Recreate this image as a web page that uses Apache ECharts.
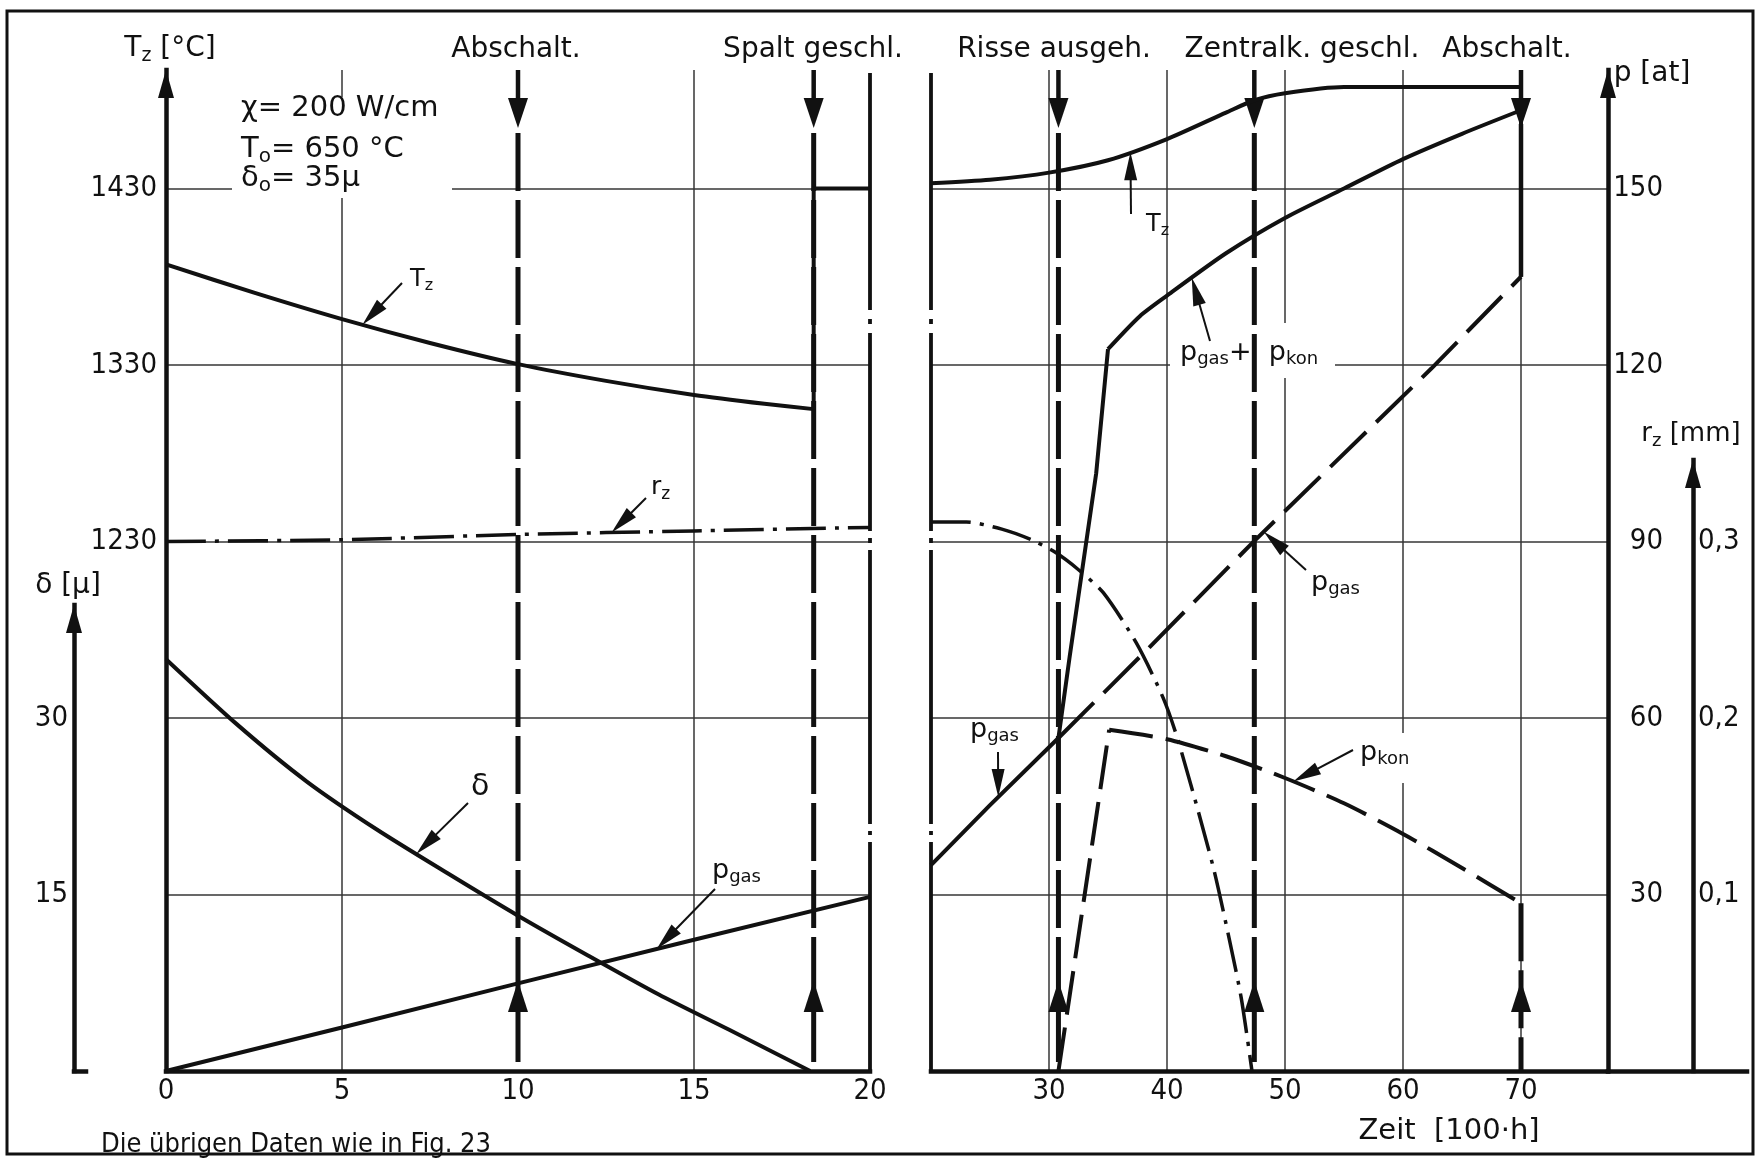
<!DOCTYPE html>
<html lang="de">
<head>
<meta charset="utf-8">
<title>Zentraltemperatur, Spaltweite und Drücke über der Zeit</title>
<script src="https://cdn.jsdelivr.net/npm/echarts@6/dist/echarts.min.js"></script>
<style>
  html, body { margin: 0; padding: 0; background: #fff; }
  #chart { width: 1756px; height: 1159px; }
</style>
</head>
<body>
<div id="chart"></div>
<script>
// ---------- tick labels ----------
const timeTicksLeft  = [0, 5, 10, 15, 20];        // Zeit [100·h] up to the gap
const timeTicksRight = [30, 40, 50, 60, 70];      // Zeit [100·h] after the gap
const tempTicks   = [1230, 1330, 1430];            // T_z [°C]
const gapTicks    = [15, 30];                      // δ [µ]
const pressTicks  = [30, 60, 90, 120, 150];        // p [at]
const radiusTicks = [0.1, 0.2, 0.3];               // r_z [mm]

// ---------- events (Zeit [100·h]) ----------
const eventsLeft       = [10, 18.4];
const eventLabelsLeft  = ['Abschalt.', 'Spalt geschl.'];
const eventsRight      = [30.8, 47.4, 70];
const eventLabelsRight = ['Risse ausgeh.', 'Zentralk. geschl.', 'Abschalt.'];

// ---------- 0 ... 20 ----------
const tzLeft         = [[0,1387],[2.5,1371],[5,1356],[7.5,1342.5],[10,1330.5],[12.5,1321],[15,1313],[17,1308],[18.4,1305]];
const tzAfterClosure = [[18.4,1430],[20,1430]];
const rzLeft         = [[0,0.300],[5,0.301],[10,0.304],[15,0.306],[20,0.308]];
const deltaLeft      = [[0,35],[2,29.5],[4,24.6],[6,20.5],[8,16.8],[10,13.2],[12,9.8],[14,6.5],[16,3.5],[18.3,0]];
const pGasLeft       = [[0,0],[5,7.4],[10,14.9],[15,22.3],[20,29.6]];

// ---------- 20 ... 70 ----------
const tzRight   = [[20,1433],[25,1435],[30,1439],[35,1446],[40,1458],[45,1473],[47.4,1480],[50,1484],[55,1487.5],[60,1487.5],[70,1487.5]];
const rzRight   = [[20,0.311],[23,0.311],[26,0.307],[28.5,0.301],[30.5,0.294],[32.5,0.284],[34.6,0.271],[37.4,0.2425],[39.7,0.211],[41,0.186],[43.9,0.116],[45.3,0.074],[46.3,0.041],[47.2,0]];
const pGasRight = [[20,35],[25,45.2],[30.8,56.6],[38.55,72.1],[47.3,89.9],[62.4,119.4],[70,135]];
const pSum      = [[30.8,56.6],[31.75,70.4],[34,101.6],[35,122.7],[37.7,128.3],[40,131.8],[45,139],[50,145],[55,150],[60,155],[65,159.3],[70,163.3]];
const pKon      = [[30.8,0],[35.1,58],[40,56.4],[45,53.5],[50,49.8],[55,45.5],[60,40.3],[65,34.5],[70,28.5]];

// ---------- look ----------
const INK = '#111111';
const GRID_INK = '#363636';
const TEXT_FONT = "'DejaVu Sans', 'Liberation Sans', sans-serif";
const NUM_FONT = "'DejaVu Sans Condensed', 'DejaVu Sans', sans-serif";
const DASH_EVENT = [58, 9];
const DASH_GAS = [50, 14];
const DASH_KON = [44, 13];
const DASH_DOT = [40, 9, 4, 9];
const DASH_BREAK = [237, 9, 5, 9, 198, 7, 5, 7, 274, 7, 4, 7, 260];

// ---------- layout (pixels) ----------
const BASE_Y = 1071, TOP_Y = 70, CELL = 176.5;
const CELLS = (BASE_Y - TOP_Y) / CELL;
const LEFT_X0 = 166, LEFT_X1 = 870;
const RIGHT_X0 = 931, RIGHT_X1 = 1608, RIGHT_PX_PER_UNIT = 11.8;
const RIGHT_MAX = 20 + (RIGHT_X1 - RIGHT_X0) / RIGHT_PX_PER_UNIT;
const DELTA_AXIS = { x: 74, top: 605, foot: 12 };
const RZ_AXIS = { x: 1693, top: 460, end: 1747 };
const T_BASE = 930;   // temperature on the base line (3 cells below 1230)

const last = a => a[a.length - 1];
const hasTick = (list, v) => list.some(t => Math.abs(t - v) < 1e-6);
const fmt = (list, f) => v => hasTick(list, v) ? (f ? f(v) : String(Math.round(v))) : '';
const gridBox = (x0, x1, top) => ({ left: x0, top: top, width: x1 - x0, height: BASE_Y - top });

const numLabel = { color: INK, fontFamily: NUM_FONT, fontSize: 29 };
const thickLine = { color: INK, width: 4.5, cap: 'square' };
const arrowLine = { show: true, onZero: false, symbol: ['none', 'triangle'], symbolSize: [16, 28], symbolOffset: [0, -14], lineStyle: thickLine };
const plainLine = { show: true, onZero: false, lineStyle: thickLine };
const gridLines = colors => ({ show: true, showMinLine: false, showMaxLine: false, lineStyle: { color: colors, width: 1.5 } });
const off = { show: false };
const hiddenY = (grid, min, max) => ({ type: 'value', gridIndex: grid, min, max, show: false, axisLine: { onZero: false } });

function interp(data, t) {
  for (let i = 1; i < data.length; i++) {
    const a = data[i - 1], b = data[i];
    if (t >= a[0] && t <= b[0] && b[0] !== a[0]) return a[1] + (b[1] - a[1]) * (t - a[0]) / (b[0] - a[0]);
  }
  return last(data)[1];
}

// vertical event line: arrow down at the top, arrow up near the foot
function eventItem(params, api) {
  const t = api.value(0);
  const x = api.coord([t, 0])[0];
  const cs = params.coordSys;
  const top = cs.y, bottom = cs.y + cs.height;
  const tip = top + 58;
  const kids = [
    { type: 'line', shape: { x1: x, y1: top, x2: x, y2: top + 34 }, style: { stroke: INK, lineWidth: 4.5 } },
    { type: 'polygon', shape: { points: [[x - 10, top + 28], [x + 10, top + 28], [x, tip]] }, style: { fill: INK } }
  ];
  const brkTop = api.value(1), brkBottom = api.value(2);
  if (brkTop >= 0) {
    const yA = api.coord([t, brkTop])[1], yB = api.coord([t, brkBottom])[1];
    kids.push({ type: 'line', shape: { x1: x, y1: tip - 4, x2: x, y2: yA }, style: { stroke: INK, lineWidth: 4.5 } });
    kids.push({ type: 'line', shape: { x1: x, y1: yB, x2: x, y2: bottom }, style: { stroke: INK, lineWidth: 5, lineDash: DASH_EVENT } });
  } else {
    kids.push({ type: 'line', shape: { x1: x, y1: tip + 5, x2: x, y2: bottom }, style: { stroke: INK, lineWidth: 5, lineDash: DASH_EVENT } });
  }
  kids.push({ type: 'polygon', shape: { points: [[x - 10, bottom - 59], [x + 10, bottom - 59], [x, bottom - 90]] }, style: { fill: INK } });
  return { type: 'group', children: kids };
}

// broken-axis edge at Zeit = 20
function breakItem(params, api) {
  const x = api.coord([api.value(0), 0])[0];
  const cs = params.coordSys;
  return { type: 'line', shape: { x1: x, y1: cs.y + 3, x2: x, y2: cs.y + cs.height }, style: { stroke: INK, lineWidth: 3.8, lineDash: DASH_BREAK } };
}

function curve(name, xi, yi, data, style, smooth) {
  return {
    name, type: 'line', xAxisIndex: xi, yAxisIndex: yi, data,
    smooth: smooth || false,
    symbol: 'none', showSymbol: false, clip: false, silent: true, z: 3,
    lineStyle: Object.assign({ color: INK, width: 4, cap: 'butt', join: 'round' }, style || {})
  };
}

const pGasBefore = pGasRight.filter(p => p[0] <= eventsRight[0]);
const pGasAfter = pGasRight.filter(p => p[0] >= eventsRight[0]);

const option = {
  backgroundColor: '#ffffff',
  animation: false,
  grid: [
    gridBox(LEFT_X0, LEFT_X1, TOP_Y),
    gridBox(RIGHT_X0, RIGHT_X1, TOP_Y),
    gridBox(DELTA_AXIS.x, DELTA_AXIS.x + DELTA_AXIS.foot, DELTA_AXIS.top),
    gridBox(RIGHT_X1, RZ_AXIS.end, RZ_AXIS.top)
  ],
  xAxis: [
    { type: 'value', gridIndex: 0, min: 0, max: 20, interval: 5, axisLine: plainLine, axisTick: off,
      axisLabel: Object.assign({ margin: 6, showMinLabel: true, showMaxLabel: true, formatter: fmt(timeTicksLeft) }, numLabel),
      splitLine: gridLines([GRID_INK, 'rgba(0,0,0,0)', GRID_INK]) },
    { type: 'value', gridIndex: 1, min: 20, max: RIGHT_MAX, interval: 10, axisLine: plainLine, axisTick: off,
      axisLabel: Object.assign({ margin: 6, formatter: fmt(timeTicksRight) }, numLabel),
      splitLine: gridLines(GRID_INK) },
    { type: 'value', gridIndex: 2, min: 0, max: 1, axisLine: plainLine, axisTick: off, axisLabel: off, splitLine: off },
    { type: 'value', gridIndex: 3, min: 0, max: 1, axisLine: plainLine, axisTick: off, axisLabel: off, splitLine: off }
  ],
  yAxis: [
    // 0: T_z, left part
    { type: 'value', gridIndex: 0, position: 'left', min: T_BASE, max: T_BASE + 100 * CELLS, interval: 100,
      axisLine: arrowLine, axisTick: off,
      axisLabel: Object.assign({ margin: 9, formatter: fmt(tempTicks) }, numLabel),
      splitLine: gridLines(GRID_INK) },
    hiddenY(0, 0, 30 * CELLS),          // 1: p, left part
    hiddenY(0, 0, 15 * CELLS),          // 2: δ, left part
    hiddenY(0, 0, 0.1 * CELLS),         // 3: r_z, left part
    // 4: p, right part
    { type: 'value', gridIndex: 1, position: 'right', min: 0, max: 30 * CELLS, interval: 30,
      axisLine: arrowLine, axisTick: off,
      axisLabel: Object.assign({ margin: 55, align: 'right', formatter: fmt(pressTicks) }, numLabel),
      splitLine: gridLines(GRID_INK) },
    hiddenY(1, T_BASE, T_BASE + 100 * CELLS), // 5: T_z, right part
    hiddenY(1, 0, 0.1 * CELLS),               // 6: r_z, right part
    // 7: δ axis
    { type: 'value', gridIndex: 2, position: 'left', min: 0, max: 15 * (BASE_Y - DELTA_AXIS.top) / CELL, interval: 15,
      axisLine: arrowLine, axisTick: off, splitLine: off,
      axisLabel: Object.assign({ margin: 6, formatter: fmt(gapTicks) }, numLabel) },
    // 8: r_z axis
    { type: 'value', gridIndex: 3, position: 'left', offset: -(RZ_AXIS.x - RIGHT_X1),
      min: 0, max: 0.1 * (BASE_Y - RZ_AXIS.top) / CELL, interval: 0.1,
      axisLine: arrowLine, axisTick: off, splitLine: off,
      axisLabel: Object.assign({ inside: true, margin: 5, formatter: fmt(radiusTicks, v => v.toFixed(1).replace('.', ',')) }, numLabel) }
  ],
  series: [
    { type: 'custom', name: 'Ereignisse', xAxisIndex: 0, yAxisIndex: 1, z: 2, silent: true, clip: false,
      data: eventsLeft.map(t => [t, -1, -1]), renderItem: eventItem },
    { type: 'custom', name: 'Ereignisse', xAxisIndex: 1, yAxisIndex: 4, z: 2, silent: true, clip: false,
      data: eventsRight.map((t, i) => i === eventsRight.length - 1 ? [t, last(pGasRight)[1], last(pKon)[1]] : [t, -1, -1]),
      renderItem: eventItem },
    { type: 'custom', name: 'Bruch', xAxisIndex: 0, yAxisIndex: 1, z: 2, silent: true, clip: false, data: [[20, 0]], renderItem: breakItem },
    { type: 'custom', name: 'Bruch', xAxisIndex: 1, yAxisIndex: 4, z: 2, silent: true, clip: false, data: [[20, 0]], renderItem: breakItem },

    curve('T_z', 0, 0, tzLeft, null, 0.25),
    curve('T_z', 0, 0, [last(tzLeft)].concat(tzAfterClosure)),
    curve('r_z', 0, 3, rzLeft, { width: 3.5, type: DASH_DOT }, 0.25),
    curve('δ', 0, 2, deltaLeft, null, 0.25),
    curve('p_gas', 0, 1, pGasLeft),

    curve('T_z', 1, 5, tzRight, null, 0.25),
    curve('r_z', 1, 6, rzRight, { width: 3.5, type: DASH_DOT }, 0.25),
    curve('p_gas', 1, 4, pGasBefore),
    curve('p_gas', 1, 4, pGasAfter, { type: DASH_GAS }),
    curve('p_gas + p_kon', 1, 4, pSum.slice(0, 4)),
    curve('p_gas + p_kon', 1, 4, pSum.slice(3), null, 0.25),
    curve('p_gas + p_kon', 1, 4, [last(pSum), last(pGasRight)]),
    curve('p_kon', 1, 4, pKon.slice(0, 2), { type: DASH_KON }),
    curve('p_kon', 1, 4, pKon.slice(1), { type: DASH_KON }, 0.25)
  ]
};

const chart = echarts.init(document.getElementById('chart'), null, { renderer: 'canvas' });
chart.setOption(option);

// ---------- texts, curve labels and frame ----------
function label(x, y, text, size, align, font) {
  font = font || TEXT_FONT;
  align = align || 'left';
  const sub = Math.round(size * 0.68);
  return {
    type: 'text', x, y, z: 20, silent: true,
    style: {
      text, fill: INK, fontFamily: font, fontSize: size,
      align, verticalAlign: 'middle', textAlign: align, textVerticalAlign: 'middle',
      rich: {
        m: { fill: INK, fontFamily: font, fontSize: size, verticalAlign: 'top' },
        s: { fill: INK, fontFamily: font, fontSize: sub, verticalAlign: 'top', padding: [Math.round(size * 0.42), 0, 0, 0] }
      }
    }
  };
}

function leader(from, tip) {
  const L = 28, w = 6.5;
  const dx = tip[0] - from[0], dy = tip[1] - from[1];
  const len = Math.hypot(dx, dy), ux = dx / len, uy = dy / len;
  const bx = tip[0] - ux * L, by = tip[1] - uy * L;
  return [
    { type: 'line', z: 15, silent: true, shape: { x1: from[0], y1: from[1], x2: bx + ux * 4, y2: by + uy * 4 }, style: { stroke: INK, lineWidth: 2 } },
    { type: 'polygon', z: 15, silent: true, shape: { points: [tip, [bx - uy * w, by + ux * w], [bx + uy * w, by - ux * w]] }, style: { fill: INK } }
  ];
}

const notes = [
  { text: '{m|T}{s|z}', size: 24, at: [410, 281], from: [402, 283], xi: 0, yi: 0, data: tzLeft, t: 5.58 },
  { text: '{m|r}{s|z}', size: 25, at: [651, 489], from: [646, 498], xi: 0, yi: 3, data: rzLeft, t: 12.66 },
  { text: 'δ', size: 30, at: [471, 787], from: [468, 803], xi: 0, yi: 2, data: deltaLeft, t: 7.11 },
  { text: '{m|p}{s|gas}', size: 27, at: [712, 872], from: [715, 889], xi: 0, yi: 1, data: pGasLeft, t: 13.94 },
  { text: '{m|T}{s|z}', size: 24, at: [1146, 226], from: [1131, 214], xi: 1, yi: 5, data: tzRight, t: 36.9 },
  { text: '{m|p}{s|gas}{m|+  p}{s|kon}', size: 27, at: [1180, 354], from: [1210, 341], xi: 1, yi: 4, data: pSum, t: 42.1 },
  { text: '{m|p}{s|gas}', size: 27, at: [1311, 584], from: [1306, 570], xi: 1, yi: 4, data: pGasRight, t: 48.2 },
  { text: '{m|p}{s|kon}', size: 27, at: [1360, 754], from: [1353, 750], xi: 1, yi: 4, data: pKon, t: 50.7 },
  { text: '{m|p}{s|gas}', size: 27, at: [970, 731], from: [998, 752], xi: 1, yi: 4, data: pGasRight, t: 25.7 }
];

const headerY = 50;
const headerXLeft = [516, 813];
const headerXRight = [1054, 1302, 1507];

const graphics = [];
// paper frame
graphics.push({ type: 'rect', z: 50, silent: true, shape: { x: 7, y: 11, width: 1746, height: 1143 }, style: { fill: 'none', stroke: INK, lineWidth: 3 } });
// white grounds under the text blocks
[[232, 97, 220, 101], [1170, 323, 165, 55], [1350, 733, 78, 50]].forEach(b => {
  graphics.push({ type: 'rect', z: 1, silent: true, shape: { x: b[0], y: b[1], width: b[2], height: b[3] }, style: { fill: '#ffffff' } });
});

// headers
graphics.push(label(170, headerY, '{m|T}{s|z}{m| [°C]}', 28, 'center'));
eventLabelsLeft.forEach((s, i) => graphics.push(label(headerXLeft[i], headerY, s, 28, 'center')));
eventLabelsRight.forEach((s, i) => graphics.push(label(headerXRight[i], headerY, s, 28, 'center')));
graphics.push(label(1652, 74, 'p [at]', 28, 'center'));
graphics.push(label(1691, 436, '{m|r}{s|z}{m| [mm]}', 26, 'center'));
graphics.push(label(68, 586, 'δ [µ]', 28, 'center'));

// operating data
graphics.push(label(241, 108, 'χ= 200 W/cm', 29));
graphics.push(label(241, 151, '{m|T}{s|o}{m|= 650 °C}', 29));
graphics.push(label(241, 180, '{m|δ}{s|o}{m|= 35µ}', 29));

// axis title and footnote
graphics.push(label(1449, 1131, 'Zeit  [100·h]', 29, 'center'));
graphics.push(label(101, 1145, 'Die übrigen Daten wie in Fig. 23', 27, 'left', NUM_FONT));

// curve labels with leader arrows
notes.forEach(n => {
  const tip = chart.convertToPixel({ xAxisIndex: n.xi, yAxisIndex: n.yi }, [n.t, interp(n.data, n.t)]);
  leader(n.from, tip).forEach(g => graphics.push(g));
  graphics.push(label(n.at[0], n.at[1], n.text, n.size));
});

chart.setOption({ graphic: { elements: graphics } });
</script>
</body>
</html>
